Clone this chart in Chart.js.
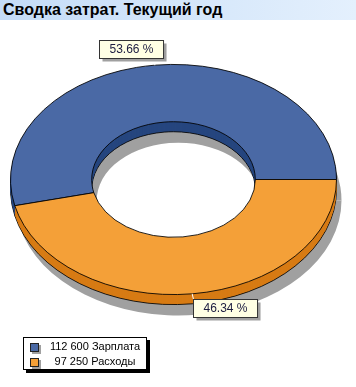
<!DOCTYPE html>
<html>
<head>
<meta charset="utf-8">
<script src="https://cdn.jsdelivr.net/npm/chart.js@4"></script>
<style>
  body { margin: 0; background: #fff; }
  #wrap { position: relative; width: 356px; height: 387px; overflow: hidden; }
  #chart { position: absolute; left: 0; top: 0; }
  #title {
    position: absolute; left: 0; top: 0; width: 356px; height: 20px;
    background: linear-gradient(to right, #c4dcf7, #e4f0fd);
    font: bold 16px "Liberation Sans", Arial, sans-serif; color: #000;
    line-height: 20px; padding-left: 3px; box-sizing: border-box;
  }
  #legend {
    position: absolute; left: 23px; top: 337px; width: 122px; height: 31px;
    border: 1px solid #000; box-shadow: 3px 3px 0 #000; background: #fff;
    font: 11px "Liberation Sans", Arial, sans-serif; color: #000;
  }
  .row { position: absolute; left: 0; width: 122px; height: 15px; line-height: 15px; }
  .sw { position: absolute; left: 6px; top: 4px; width: 7px; height: 7px; border: 1px solid #222; box-shadow: 2px 2px 0 #a0a0a0; }
  .txt { position: absolute; left: 21px; width: 100px; text-align: center; white-space: pre; }
</style>
</head>
<body>
<div id="wrap">
  <canvas id="chart" width="356" height="387"></canvas>
  <div id="title">Сводка затрат. Текущий год</div>
  <div id="legend"></div>
</div>
<script>
// data
const categories = ["Зарплата", "Расходы"];
const amounts = [112600, 97250];
const topColors = ["#4a69a5", "#f4a038"];
const sideColors = ["#26467f", "#d77b14"];

const total = amounts.reduce((a, b) => a + b, 0);
const percentLabels = amounts.map(v => (v / total * 100).toFixed(2) + " %");
const fmt = n => n.toString().replace(/\B(?=(\d{3})+(?!\d))/g, " ");

// legend
const legend = document.getElementById("legend");
categories.forEach((c, i) => {
    const row = document.createElement("div");
    row.className = "row";
    row.style.top = (1 + i * 15) + "px";
    row.innerHTML = '<span class="sw" style="background:' + topColors[i] + '"></span>' +
        '<span class="txt">' + fmt(amounts[i]) + " " + c + "</span>";
    legend.appendChild(row);
});

const K = 0.706;     // vertical squash of the tilted ring
const DEPTH = 10;    // thickness of the ring side

// draws the ring squashed, with a side and a shadow
const tilt = {
    id: "tilt",
    beforeDatasetsDraw(chart) {
        const ctx = chart.ctx;
        const meta = chart.getDatasetMeta(0);
        const cy = meta.data[0].y;
        const paint = (dx, dy, fills, border) => {
            ctx.save();
            ctx.translate(dx, dy + cy * (1 - K));
            ctx.scale(1, K);
            meta.data.forEach((arc, i) => {
                const o = arc.options;
                arc.options = Object.assign({}, o, {
                    backgroundColor: fills[i],
                    borderWidth: border ? 1 : 0,
                    borderColor: "#000"
                });
                arc.draw(ctx);
                arc.options = o;
            });
            ctx.restore();
        };
        paint(5, 21, ["#a0a0a0", "#a0a0a0"], false);
        paint(0, DEPTH, sideColors, true);
        for (let d = DEPTH - 1; d >= 1; d--) paint(0, d, sideColors, false);

        ctx.save();
        ctx.translate(0, cy * (1 - K));
        ctx.scale(1, K);
    },
    afterDatasetsDraw(chart) {
        chart.ctx.restore();
    },
    afterDraw(chart) {
        const ctx = chart.ctx;
        const meta = chart.getDatasetMeta(0);
        ctx.save();
        ctx.font = '12px "Liberation Sans", Arial, sans-serif';
        ctx.textBaseline = "middle";
        ctx.textAlign = "center";
        meta.data.forEach((arc, i) => {
            const mid = (arc.startAngle + arc.endAngle) / 2;
            const ax = arc.x + arc.outerRadius * Math.cos(mid);
            const ay = arc.y + arc.outerRadius * K * Math.sin(mid);
            const w = ctx.measureText(percentLabels[i]).width + 20;
            const h = 18;
            const left = Math.cos(mid) < 0 ? ax + 8 - w : ax + 1;
            const top = Math.sin(mid) < 0 ? ay - 7 - h : ay + 5;
            const bx = Math.round(left) + 0.5, by = Math.round(top) + 0.5;

            ctx.strokeStyle = "#fff";
            ctx.lineWidth = 1;
            ctx.beginPath();
            ctx.moveTo(ax, ay);
            ctx.lineTo(Math.min(Math.max(ax, bx), bx + w), Math.min(Math.max(ay, by), by + h));
            ctx.stroke();

            ctx.fillStyle = "#a0a0a0";
            ctx.fillRect(bx + 3, by + 3, w, h);
            ctx.fillStyle = "#ffffe4";
            ctx.fillRect(bx, by, w, h);
            ctx.strokeStyle = "#333";
            ctx.strokeRect(bx, by, w, h);
            ctx.fillStyle = "#1c1c40";
            ctx.fillText(percentLabels[i], bx + w / 2, by + h / 2 + 0.5);
        });
        ctx.restore();
    }
};

new Chart(document.getElementById("chart"), {
    type: "doughnut",
    data: {
        labels: categories,
        datasets: [{
            data: amounts,
            backgroundColor: topColors,
            borderColor: "#000",
            borderWidth: 1,
            clip: false
        }]
    },
    options: {
        responsive: false,
        animation: false,
        events: [],
        cutout: "50.2%",
        // start the first slice so that the second one begins at 3 o'clock
        rotation: 90 + 360 * amounts[1] / total,
        layout: { padding: { left: 10, right: 19, top: 16, bottom: 44 } },
        plugins: {
            legend: { display: false },
            tooltip: { enabled: false }
        }
    },
    plugins: [tilt]
});
</script>
</body>
</html>
